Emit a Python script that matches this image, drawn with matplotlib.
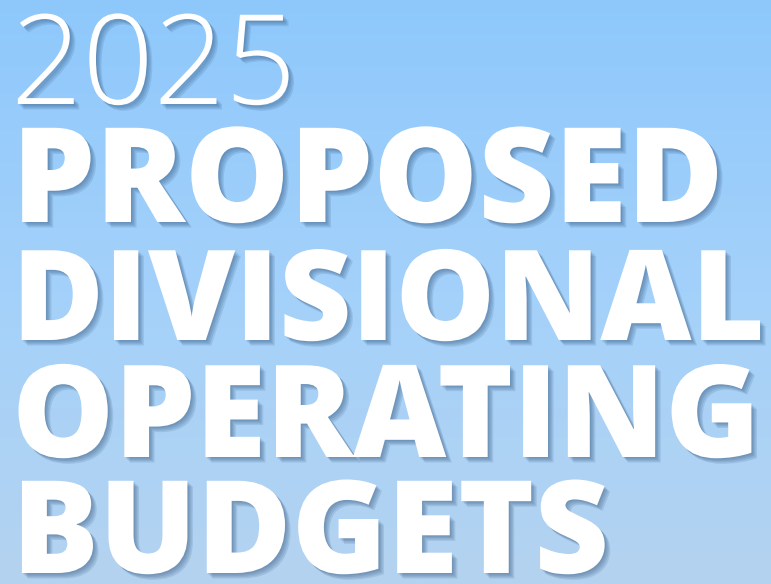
import numpy as np
import matplotlib.pyplot as plt
import matplotlib.patheffects as pe
from matplotlib.colors import LinearSegmentedColormap

year = "2025"
title_lines = ["PROPOSED", "DIVISIONAL", "OPERATING", "BUDGETS"]

fig = plt.figure(figsize=(7.71, 5.84), dpi=100)
ax = fig.add_axes([0, 0, 1, 1])
ax.set_xlim(0, 771)
ax.set_ylim(584, 0)
ax.axis('off')

# sky-blue background, lighter / greyer towards the bottom
cmap = LinearSegmentedColormap.from_list('sky', ['#8ec8fc', '#a4d1fa', '#b4d3f0'])
grad = np.linspace(0, 1, 256).reshape(-1, 1)
ax.imshow(grad, cmap=cmap, aspect='auto', extent=[0, 771, 584, 0], zorder=0)

# soft drop shadow: a few stacked faint offsets
shadow = [pe.SimplePatchShadow(offset=(o, -o), shadow_rgbFace='#23466e', alpha=0.13)
          for o in (1, 2, 3, 4)] + [pe.Normal()]

ax.text(11, 104, year, color='white', fontsize=90, family='Open Sans', weight='light',
        va='baseline', ha='left', path_effects=shadow)

baselines = [222, 340, 457, 573]
sizes = [95, 90.5, 92.5, 93]
for y, fs, line in zip(baselines, sizes, title_lines):
    ax.text(12, y, line, color='white', fontsize=fs, family='Open Sans', weight='heavy',
            va='baseline', ha='left', path_effects=shadow)

fig.savefig('out.png', dpi=100)
